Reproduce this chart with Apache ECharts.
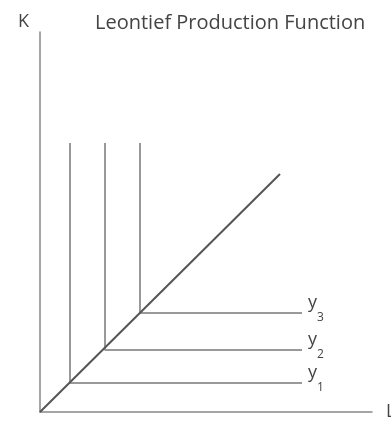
<!DOCTYPE html>
<html>
<head>
<meta charset="utf-8">
<script src="https://cdn.jsdelivr.net/npm/echarts@6/dist/echarts.min.js"></script>
<style>html,body{margin:0;padding:0;background:#fff;}#c{width:391px;height:423px;}</style>
</head>
<body>
<div id="c"></div>
<script>
// Data (arbitrary input units: L horizontal, K vertical)
const cornerL = [30, 65, 100];       // L at the kink of each isoquant
const cornerK = [29, 62, 99];        // K at the kink of each isoquant
const isoTopK = 269;                 // top of vertical arms
const isoEndL = 262;                 // end of horizontal arms
const rayEnd = [240, 238];           // end point of expansion ray from origin
const isoNames = ['1', '2', '3'];    // subscripts y1, y2, y3
const axisMaxL = 332;
const axisMaxK = 380;

const chart = echarts.init(document.getElementById('c'), null, {renderer: 'canvas'});
const FONT = '"Open Sans", sans-serif';

const series = [{
  type: 'line',
  data: [[0, 0], rayEnd],
  symbol: 'none',
  silent: true,
  lineStyle: {color: '#555', width: 2},
  z: 3
}];
cornerL.forEach((l, i) => {
  series.push({
    type: 'line',
    data: [[l, isoTopK], [l, cornerK[i]], [isoEndL, cornerK[i]]],
    symbol: 'none',
    silent: true,
    lineStyle: {color: '#999', width: 2},
    endLabel: {
      show: true,
      distance: 6,
      offset: [0, -4],
      formatter: '{a|y}{b|' + isoNames[i] + '}',
      rich: {
        a: {fontFamily: FONT, fontSize: 18, color: '#444', verticalAlign: 'top', lineHeight: 30},
        b: {fontFamily: FONT, fontSize: 12, color: '#444', verticalAlign: 'bottom', lineHeight: 30}
      }
    },
    z: 2
  });
});

chart.setOption({
  animation: false,
  backgroundColor: '#fff',
  title: [
    {text: 'Leontief Production Function', left: 90, top: 8,
     textStyle: {fontFamily: FONT, fontSize: 20, fontWeight: 'normal', color: '#444'}},
    {text: 'K', left: 13, top: 8,
     textStyle: {fontFamily: FONT, fontSize: 18, fontWeight: 'normal', color: '#444'}}
  ],
  grid: {left: 40, right: 19, top: 32, bottom: 11, containLabel: false, outerBoundsMode: 'none'},
  xAxis: {
    type: 'value', min: 0, max: axisMaxL,
    name: 'L', nameLocation: 'end', nameGap: 14,
    nameTextStyle: {fontFamily: FONT, fontSize: 18, color: '#444', align: 'left', verticalAlign: 'middle'},
    axisLine: {show: true, lineStyle: {color: '#888', width: 1.5}},
    axisTick: {show: false}, axisLabel: {show: false}, splitLine: {show: false}
  },
  yAxis: {
    type: 'value', min: 0, max: axisMaxK,
    axisLine: {show: true, lineStyle: {color: '#888', width: 1.5}},
    axisTick: {show: false}, axisLabel: {show: false}, splitLine: {show: false}
  },
  series: series
});
</script>
</body>
</html>
